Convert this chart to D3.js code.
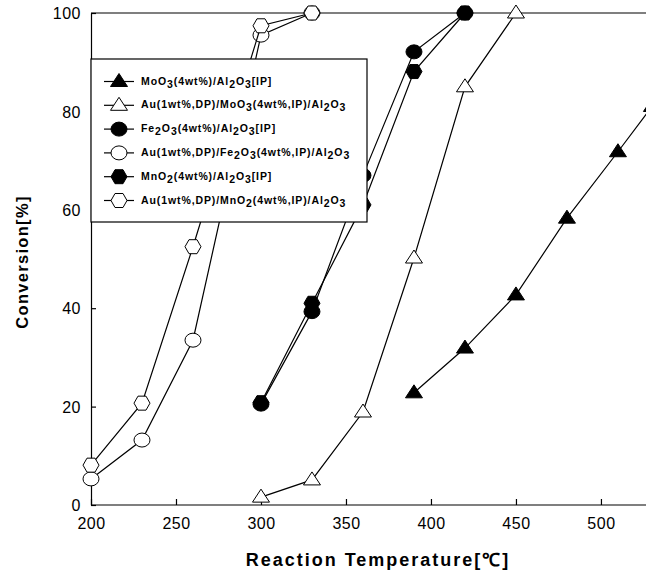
<!DOCTYPE html>
<html>
<head>
<meta charset="utf-8">
<script src="https://cdn.jsdelivr.net/npm/d3@7"></script>
<style>
  body { margin: 0; background: #fff; }
  text { font-family: "Liberation Sans", Arial, sans-serif; }
</style>
</head>
<body>
<svg id="chart" width="646" height="572"></svg>
<script>
// data
const moo3Temp = [390, 420, 450, 480, 510, 530];
const moo3Conv = [22.8, 31.9, 42.7, 58.3, 71.8, 81];
const auMoo3Temp = [300, 330, 360, 390, 420, 450];
const auMoo3Conv = [1.6, 5.1, 18.9, 50.2, 85, 100];
const fe2o3Temp = [300, 330, 360, 390, 420];
const fe2o3Conv = [20.5, 39.3, 67, 92.1, 100];
const auFe2o3Temp = [200, 230, 260, 300, 330];
const auFe2o3Conv = [5.3, 13.2, 33.5, 95.5, 100];
const mno2Temp = [300, 330, 360, 390, 420];
const mno2Conv = [20.8, 41, 61, 88.1, 100];
const auMno2Temp = [200, 230, 260, 300, 330];
const auMno2Conv = [8.1, 20.7, 52.5, 97.4, 100];

const xTicks = [200, 250, 300, 350, 400, 450, 500];
const yTicks = [0, 20, 40, 60, 80, 100];

// legend labels: [text, isSubscript] pieces
const legendLabels = [
  [["MoO", 0], ["3", 1], ["(4wt%)/Al", 0], ["2", 1], ["O", 0], ["3", 1], ["[IP]", 0]],
  [["Au(1wt%,DP)/MoO", 0], ["3", 1], ["(4wt%,IP)/Al", 0], ["2", 1], ["O", 0], ["3", 1]],
  [["Fe", 0], ["2", 1], ["O", 0], ["3", 1], ["(4wt%)/Al", 0], ["2", 1], ["O", 0], ["3", 1], ["[IP]", 0]],
  [["Au(1wt%,DP)/Fe", 0], ["2", 1], ["O", 0], ["3", 1], ["(4wt%,IP)/Al", 0], ["2", 1], ["O", 0], ["3", 1]],
  [["MnO", 0], ["2", 1], ["(4wt%)/Al", 0], ["2", 1], ["O", 0], ["3", 1], ["[IP]", 0]],
  [["Au(1wt%,DP)/MnO", 0], ["2", 1], ["(4wt%,IP)/Al", 0], ["2", 1], ["O", 0], ["3", 1]]
];

const series = [
  {t: moo3Temp, v: moo3Conv, shape: "triangle", fill: "#000"},
  {t: auMoo3Temp, v: auMoo3Conv, shape: "triangle", fill: "#fff"},
  {t: fe2o3Temp, v: fe2o3Conv, shape: "circle", fill: "#000"},
  {t: auFe2o3Temp, v: auFe2o3Conv, shape: "circle", fill: "#fff"},
  {t: mno2Temp, v: mno2Conv, shape: "hexagon", fill: "#000"},
  {t: auMno2Temp, v: auMno2Conv, shape: "hexagon", fill: "#fff"}
];

const plotLeft = 91, plotTop = 13, plotBottom = 505, plotRight = 646;
const svg = d3.select("#chart");

const x = d3.scaleLinear().domain([200, 526.5]).range([plotLeft, plotRight]);
const y = d3.scaleLinear().domain([0, 100]).range([plotBottom, plotTop]);

function markerPath(shape) {
  if (shape === "triangle") {
    return "M0,-8L8.5,5L-8.5,5Z";
  }
  if (shape === "circle") {
    return "M-8,0A8,7 0 1,0 8,0A8,7 0 1,0 -8,0Z";
  }
  // hexagon, points left and right
  return "M-8,0L-4,-7L4,-7L8,0L4,7L-4,7Z";
}

// frame: top line
svg.append("line")
  .attr("x1", plotLeft).attr("x2", plotRight)
  .attr("y1", plotTop).attr("y2", plotTop)
  .attr("stroke", "#000").attr("stroke-width", 1.2);

// axes
const xAxis = svg.append("g")
  .attr("transform", "translate(0," + plotBottom + ")")
  .call(d3.axisBottom(x).tickValues(xTicks).tickSizeInner(-6).tickSizeOuter(0).tickPadding(13));
const yAxis = svg.append("g")
  .attr("transform", "translate(" + plotLeft + ",0)")
  .call(d3.axisLeft(y).tickValues(yTicks).tickSizeInner(-5).tickSizeOuter(0).tickPadding(10));

[xAxis, yAxis].forEach(g => {
  g.select(".domain").attr("stroke", "#000").attr("stroke-width", 1.2);
  g.selectAll(".tick line").attr("stroke", "#000").attr("stroke-width", 1.2);
  g.selectAll(".tick text")
    .attr("fill", "#000")
    .style("font-size", "16px")
    .style("letter-spacing", "0.5px")
    .style("font-family", "'Liberation Sans', Arial, sans-serif");
});
xAxis.select(".domain").attr("d", "M" + plotLeft + ",0H" + plotRight);
yAxis.selectAll(".tick text").attr("dy", "0.36em");

// axis titles
svg.append("text")
  .attr("x", 378).attr("y", 566)
  .attr("text-anchor", "middle")
  .style("font-size", "18px").style("font-weight", "bold")
  .style("letter-spacing", "2px")
  .text("Reaction Temperature[℃]");

svg.append("text")
  .attr("transform", "translate(28,262) rotate(-90)")
  .attr("text-anchor", "middle")
  .style("font-size", "16.5px").style("font-weight", "bold")
  .style("letter-spacing", "1.3px")
  .text("Conversion[%]");

// series lines and markers
const line = d3.line().x(d => x(d[0])).y(d => y(d[1]));
series.forEach(s => {
  const pts = s.t.map((t, i) => [t, s.v[i]]);
  svg.append("path")
    .attr("d", line(pts))
    .attr("fill", "none")
    .attr("stroke", "#000")
    .attr("stroke-width", 1.2);
  svg.selectAll(null)
    .data(pts)
    .enter()
    .append("path")
    .attr("transform", d => "translate(" + x(d[0]) + "," + y(d[1]) + ")")
    .attr("d", markerPath(s.shape))
    .attr("fill", s.fill)
    .attr("stroke", "#000")
    .attr("stroke-width", 1);
});

// legend
const legend = svg.append("g");
legend.append("rect")
  .attr("x", plotLeft).attr("y", 59)
  .attr("width", 276).attr("height", 163)
  .attr("fill", "#fff")
  .attr("stroke", "#000")
  .attr("stroke-width", 1.2);

legendLabels.forEach((parts, i) => {
  const cy = 81.5 + i * 23.8;
  const s = series[i];
  legend.append("line")
    .attr("x1", 104).attr("x2", 134)
    .attr("y1", cy).attr("y2", cy)
    .attr("stroke", "#000").attr("stroke-width", 1.2);
  legend.append("path")
    .attr("transform", "translate(119," + cy + ")")
    .attr("d", markerPath(s.shape))
    .attr("fill", s.fill)
    .attr("stroke", "#000");
  const txt = legend.append("text")
    .attr("x", 141).attr("y", cy + 3)
    .style("font-size", "10.5px").style("font-weight", "bold")
    .style("letter-spacing", "0.9px");
  let sub = 0;
  parts.forEach(p => {
    const ts = txt.append("tspan").text(p[0]);
    if (p[1] && !sub) { ts.attr("dy", 3); sub = 1; }
    else if (!p[1] && sub) { ts.attr("dy", -3); sub = 0; }
  });
});
</script>
</body>
</html>
